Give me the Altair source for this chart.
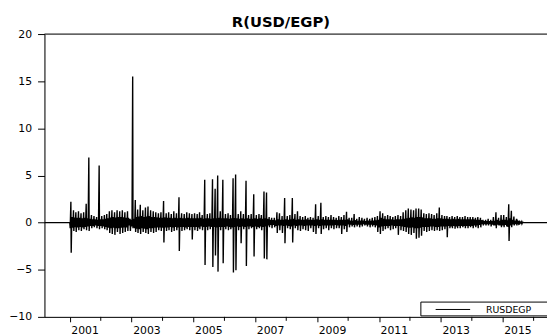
import altair as alt
import pandas as pd

# Monthly extremes (high / low) of the daily return series
hi_2001 = [2.2, 1.3, 1.1, 1.2, 1.0, 1.1, 2.0, 6.9, 0.8, 0.7, 0.6, 6.05]
lo_2001 = [-3.2, -0.9, -1.0, -0.8, -0.9, -0.7, -0.8, -0.9, -0.6, -0.5, -0.6, -0.7]
hi_2002 = [0.7, 0.8, 0.9, 1.2, 1.3, 1.1, 1.3, 1.2, 1.3, 1.1, 1.2, 0.4]
lo_2002 = [-0.6, -0.7, -0.8, -1.1, -1.2, -1.3, -1.0, -1.2, -1.1, -1.0, -0.9, -0.9]
hi_2003 = [15.5, 2.4, 1.4, 1.9, 1.3, 1.6, 1.7, 1.3, 1.2, 1.1, 1.0, 1.1]
lo_2003 = [-0.6, -1.0, -1.1, -1.2, -1.0, -1.1, -1.2, -1.0, -1.1, -1.0, -0.8, -0.9]
hi_2004 = [2.3, 1.0, 1.1, 0.9, 1.2, 1.0, 2.7, 1.0, 0.9, 1.1, 1.0, 0.9]
lo_2004 = [-2.1, -0.9, -0.8, -1.0, -0.9, -0.8, -3.0, -0.9, -0.8, -0.7, -0.8, -1.8]
hi_2005 = [1.0, 0.9, 1.1, 0.8, 4.55, 0.9, 1.0, 4.6, 3.6, 5.0, 1.2, 4.55]
lo_2005 = [-0.8, -0.9, -0.7, -0.8, -4.5, -0.8, -0.7, -4.7, -3.5, -5.2, -0.8, -4.3]
hi_2006 = [0.9, 1.0, 0.8, 4.7, 5.1, 0.9, 1.2, 0.9, 4.45, 0.8, 0.9, 3.0]
lo_2006 = [-0.7, -0.8, -0.7, -5.3, -5.05, -0.8, -2.2, -0.7, -4.6, -0.7, -0.6, -3.6]
hi_2007 = [0.8, 0.9, 0.8, 3.3, 3.2, 0.6, 0.5, 0.5, 1.1, 1.0, 0.7, 2.6]
lo_2007 = [-0.7, -0.6, -0.8, -3.8, -3.9, -0.5, -0.6, -0.5, -1.1, -0.8, -1.1, -2.2]
hi_2008 = [0.7, 0.8, 2.6, 0.9, 1.2, 0.7, 0.6, 0.7, 0.5, 0.6, 0.5, 1.95]
lo_2008 = [-0.6, -0.7, -2.1, -0.6, -0.8, -0.9, -0.7, -0.8, -0.9, -0.6, -1.0, -1.2]
hi_2009 = [0.7, 2.1, 0.6, 0.7, 0.6, 0.8, 0.6, 0.5, 0.7, 0.6, 0.8, 1.15]
lo_2009 = [-0.6, -1.2, -0.7, -0.6, -0.8, -0.6, -0.7, -0.6, -0.6, -1.2, -0.7, -1.0]
hi_2010 = [0.5, 0.5, 0.9, 0.4, 0.6, 0.5, 0.4, 0.5, 0.4, 0.5, 0.6, 0.7]
lo_2010 = [-0.5, -0.4, -0.5, -0.4, -0.5, -0.4, -0.3, -0.4, -0.5, -0.4, -0.5, -1.0]
hi_2011 = [1.2, 1.0, 0.7, 0.8, 0.7, 0.6, 0.7, 0.8, 0.7, 1.1, 1.3, 1.5]
lo_2011 = [-1.2, -0.9, -0.7, -0.6, -0.8, -0.7, -0.6, -1.3, -0.8, -0.9, -1.0, -1.2]
hi_2012 = [1.4, 1.3, 1.5, 1.5, 1.4, 1.0, 0.9, 1.0, 0.9, 0.8, 1.0, 1.6]
lo_2012 = [-1.3, -1.1, -1.7, -1.6, -1.4, -0.9, -1.0, -0.9, -0.8, -0.9, -0.8, -0.9]
hi_2013 = [0.8, 0.7, 0.7, 0.6, 0.7, 0.6, 0.7, 0.6, 0.6, 0.7, 0.6, 0.6]
lo_2013 = [-0.8, -0.7, -1.55, -0.6, -0.6, -0.65, -0.6, -0.6, -0.5, -0.6, -0.6, -0.5]
hi_2014 = [0.6, 0.5, 0.6, 0.5, 0.3, 0.3, 0.4, 0.3, 0.6, 1.1, 0.5, 0.8]
lo_2014 = [-0.6, -0.5, -0.6, -0.5, -0.3, -0.3, -0.3, -0.4, -0.3, -0.6, -0.3, -0.5]
hi_2015 = [0.8, 0.6, 1.95, 1.25, 0.65, 0.4, 0.2, 0.1]
lo_2015 = [-0.5, -0.4, -1.95, -0.5, -0.3, -0.3, -0.2, -0.1]

# Typical (core) daily move of each month, read from the solid part of the band
core_2001 = [0.6, 0.55, 0.5, 0.5, 0.45, 0.5, 0.45, 0.4, 0.35, 0.35, 0.3, 0.35]
core_2002 = [0.35, 0.4, 0.45, 0.55, 0.6, 0.55, 0.6, 0.6, 0.55, 0.5, 0.5, 0.3]
core_2003 = [0.4, 0.6, 0.65, 0.7, 0.6, 0.65, 0.7, 0.6, 0.6, 0.55, 0.5, 0.5]
core_2004 = [0.55, 0.5, 0.5, 0.45, 0.5, 0.45, 0.5, 0.45, 0.45, 0.5, 0.45, 0.45]
core_2005 = [0.45, 0.45, 0.5, 0.4, 0.45, 0.45, 0.4, 0.45, 0.45, 0.5, 0.45, 0.45]
core_2006 = [0.45, 0.4, 0.45, 0.5, 0.45, 0.4, 0.45, 0.4, 0.45, 0.4, 0.4, 0.45]
core_2007 = [0.4, 0.45, 0.4, 0.45, 0.4, 0.3, 0.25, 0.25, 0.35, 0.3, 0.3, 0.35]
core_2008 = [0.3, 0.35, 0.4, 0.3, 0.35, 0.3, 0.3, 0.35, 0.3, 0.3, 0.3, 0.35]
core_2009 = [0.3, 0.35, 0.3, 0.3, 0.3, 0.3, 0.3, 0.25, 0.3, 0.3, 0.3, 0.35]
core_2010 = [0.2, 0.2, 0.25, 0.2, 0.2, 0.2, 0.15, 0.2, 0.2, 0.2, 0.25, 0.3]
core_2011 = [0.5, 0.4, 0.35, 0.35, 0.35, 0.3, 0.35, 0.35, 0.35, 0.4, 0.45, 0.5]
core_2012 = [0.55, 0.5, 0.6, 0.6, 0.55, 0.45, 0.45, 0.45, 0.4, 0.4, 0.45, 0.45]
core_2013 = [0.4, 0.4, 0.4, 0.35, 0.4, 0.35, 0.4, 0.35, 0.35, 0.35, 0.35, 0.35]
core_2014 = [0.35, 0.3, 0.3, 0.25, 0.15, 0.15, 0.15, 0.15, 0.2, 0.3, 0.2, 0.3]
core_2015 = [0.3, 0.25, 0.45, 0.3, 0.2, 0.15, 0.1, 0.05]

years = list(range(2001, 2016))
highs = [hi_2001, hi_2002, hi_2003, hi_2004, hi_2005, hi_2006, hi_2007, hi_2008,
         hi_2009, hi_2010, hi_2011, hi_2012, hi_2013, hi_2014, hi_2015]
lows = [lo_2001, lo_2002, lo_2003, lo_2004, lo_2005, lo_2006, lo_2007, lo_2008,
        lo_2009, lo_2010, lo_2011, lo_2012, lo_2013, lo_2014, lo_2015]
cores = [core_2001, core_2002, core_2003, core_2004, core_2005, core_2006, core_2007,
         core_2008, core_2009, core_2010, core_2011, core_2012, core_2013, core_2014,
         core_2015]

# flat (zero) stretches before and after the observed sample
lead_dates = ["2000-03-07", "2000-12-31"]
trail_dates = ["2015-09-06", "2016-06-07"]

rows = [{"date": d, "RUSDEGP": 0.0} for d in lead_dates]
for y, hs, ls, cs in zip(years, highs, lows, cores):
    for m, (h, l, c) in enumerate(zip(hs, ls, cs), start=1):
        rows.append({"date": f"{y}-{m:02d}-05", "RUSDEGP": -c})
        rows.append({"date": f"{y}-{m:02d}-13", "RUSDEGP": h})
        rows.append({"date": f"{y}-{m:02d}-17", "RUSDEGP": l})
        rows.append({"date": f"{y}-{m:02d}-24", "RUSDEGP": c})
rows += [{"date": d, "RUSDEGP": 0.0} for d in trail_dates]
df = pd.DataFrame(rows)

W, H = 510, 287
FONT = "DejaVu Sans"

x_scale = alt.Scale(domain=[alt.DateTime(year=2000, month=3, date=7),
                            alt.DateTime(year=2016, month=6, date=7)])
y_scale = alt.Scale(domain=[-10, 20])

major_years = [alt.DateTime(year=y, month=1, date=1) for y in range(2001, 2016, 2)]
minor_years = [{"d": f"{y}-01-01"} for y in range(2002, 2017, 2)]

line = alt.Chart(df).mark_line(color="black", strokeWidth=1.4, clip=True).encode(
    x=alt.X("date:T", scale=x_scale, title=None,
            axis=alt.Axis(values=major_years, format="%Y", labelAlign="left", labelOffset=1,
                          labelPadding=3, tickSize=5, grid=False, domainColor="black",
                          tickColor="black", labelColor="black", labelFont=FONT,
                          labelFontSize=11, labelFlush=False, labelOverlap=False)),
    y=alt.Y("RUSDEGP:Q", scale=y_scale, title=None,
            axis=alt.Axis(values=[-10, -5, 0, 5, 10, 15, 20], tickSize=7, labelPadding=6,
                          grid=False, domainColor="black", tickColor="black",
                          labelColor="black", labelFont=FONT, labelFontSize=11,
                          labelFlush=False)),
)

minor = alt.Chart(alt.Data(values=minor_years)).mark_rule(color="black", strokeWidth=1).encode(
    x=alt.X("d:T", scale=x_scale),
    y=alt.value(H), y2=alt.value(H + 4),
)

top_border = alt.Chart(alt.Data(values=[{}])).mark_rule(color="black", strokeWidth=1).encode(
    x=alt.value(0), x2=alt.value(W), y=alt.value(0)
)

title = alt.Chart(alt.Data(values=[{"t": "R(USD/EGP)"}])).mark_text(
    align="center", baseline="alphabetic", font=FONT, fontSize=15, fontWeight="bold",
    color="black"
).encode(x=alt.value(240), y=alt.value(-7), text="t:N")

legend_box = alt.Chart(alt.Data(values=[{}])).mark_rect(
    fill="white", stroke="black", strokeWidth=1
).encode(x=alt.value(382), x2=alt.value(W + 2), y=alt.value(272), y2=alt.value(286))

legend_line = alt.Chart(alt.Data(values=[{}])).mark_rule(color="black", strokeWidth=1).encode(
    x=alt.value(397), x2=alt.value(432), y=alt.value(279.5)
)

legend_text = alt.Chart(alt.Data(values=[{"t": "RUSDEGP"}])).mark_text(
    align="left", baseline="alphabetic", font=FONT, fontSize=9.5, color="black"
).encode(x=alt.value(448), y=alt.value(283), text="t:N")

chart = alt.layer(line, minor, top_border, title, legend_box, legend_line,
                  legend_text).properties(
    width=W, height=H,
    autosize=alt.AutoSizeParams(type="none"),
    padding={"left": 37, "top": 24, "right": 0, "bottom": 20},
).configure_view(stroke=None).configure(background="white")

chart.save("out.html", embed_options={"renderer": "svg", "actions": False})
